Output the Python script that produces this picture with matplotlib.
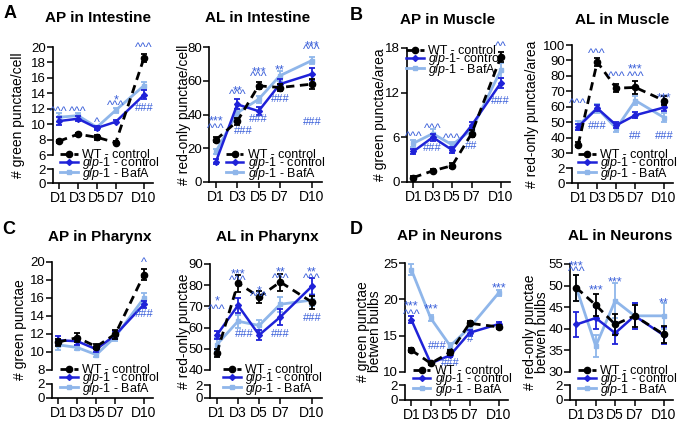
import matplotlib
matplotlib.use("Agg")
import matplotlib.pyplot as plt
from matplotlib.transforms import offset_copy

plt.rcParams['font.family'] = ['Liberation Sans', 'DejaVu Sans']
plt.rcParams['mathtext.fontset'] = 'custom'
plt.rcParams['mathtext.it'] = 'Liberation Sans:italic'
plt.rcParams['mathtext.rm'] = 'Liberation Sans'

days = [1, 3, 5, 7, 10]
day_labels = ['D1', 'D3', 'D5', 'D7', 'D10']

# A - AP in intestine
ap_int_wt = [7.8, 8.7, 8.3, 7.6, 18.6]
ap_int_wt_err = [0.2, 0.2, 0.3, 0.2, 0.5]
ap_int_glp = [10.4, 10.7, 9.5, 10.3, 13.8]
ap_int_glp_err = [0.5, 0.3, 0.2, 0.2, 0.6]
ap_int_baf = [10.9, 11.1, 9.6, 11.8, 15.0]
ap_int_baf_err = [0.6, 0.4, 0.2, 0.3, 0.5]
ap_int_marks = [(1, '^^^', 12.2), (3, '^^^', 12.2), (5, '^', 10.8), (7, '*', 13.6),
                (7, '^^^', 12.9), (10, '^^^', 20.5), (10, '###', 12.2)]

# A - AL in intestine
al_int_wt = [25, 36, 57, 56, 58]
al_int_wt_err = [1.5, 2, 2, 2, 3]
al_int_glp = [12, 46, 42, 58, 64]
al_int_glp_err = [1.5, 3, 2.5, 3, 3.5]
al_int_baf = [18, 41, 49, 63, 72]
al_int_baf_err = [1.5, 2, 2, 3, 2]
al_int_marks = [(1, '***', 38.5), (1, '^^^', 34), (3, '**', 56.5), (3, '^^^', 54),
                (3.6, '###', 31), (5, '***', 67.5), (5, '^^^', 65), (5, '###', 38),
                (7, '**', 69), (7, '###', 49.5), (10, '***', 83), (10, '^^^', 81),
                (10, '###', 36)]

# B - AP in muscle
ap_mus_wt = [0.6, 1.5, 2.2, 6.5, 16.8]
ap_mus_wt_err = [0.2, 0.2, 0.3, 0.5, 0.7]
ap_mus_glp = [4.1, 6.0, 4.3, 7.6, 13.3]
ap_mus_glp_err = [0.3, 0.5, 0.4, 0.5, 0.7]
ap_mus_baf = [5.2, 6.5, 5.0, 7.0, 15.0]
ap_mus_baf_err = [0.5, 0.6, 0.4, 0.5, 1.0]
ap_mus_marks = [(1, '^^^', 6.6), (3, '^^^', 7.7), (3, '###', 4.7), (5, '^^^', 6.4),
                (7, '##', 5.0), (10, '^^', 18.7), (10, '###', 11.0)]

# B - AL in muscle
al_mus_wt = [35.5, 89, 72, 72.5, 64]
al_mus_wt_err = [1.5, 2.5, 2.5, 4, 3]
al_mus_glp = [47, 59, 48, 54.5, 59.5]
al_mus_glp_err = [2, 2, 2, 2, 2.5]
al_mus_baf = [48, 59, 46, 64, 53]
al_mus_baf_err = [3, 3, 2.5, 3, 3]
al_mus_marks = [(1, '^^^', 64.5), (3, '^^^', 96.8), (3, '###', 48), (5, '^^^', 82.5),
                (7, '***', 87), (7, '^^^', 82.5), (7, '##', 41.7), (10, '***', 68),
                (10, '###', 41.5)]

# C - AP in pharynx
ap_pha_wt = [11.1, 11.6, 10.6, 12.0, 18.6]
ap_pha_wt_err = [0.4, 0.5, 0.3, 0.5, 0.6]
ap_pha_glp = [11.3, 11.2, 10.3, 11.9, 15.3]
ap_pha_glp_err = [0.5, 0.4, 0.3, 0.4, 0.4]
ap_pha_baf = [10.8, 10.5, 9.7, 11.7, 16.0]
ap_pha_baf_err = [0.6, 0.3, 0.2, 0.5, 0.6]
ap_pha_marks = [(10, '^', 20.4), (10, '###', 14.3)]

# C - AL in pharynx
al_pha_wt = [48, 81, 74.5, 81.5, 72]
al_pha_wt_err = [2, 4, 3, 4, 3]
al_pha_glp = [56.5, 70.5, 56.5, 65, 79.5]
al_pha_glp_err = [2, 3.5, 2.5, 4, 4]
al_pha_baf = [52, 63, 61, 71, 73]
al_pha_baf_err = [3, 3, 2.5, 3.5, 3]
al_pha_marks = [(1, '*', 74.5), (1, '^^^', 70.3), (3, '***', 87), (3, '^^^', 84.3),
                (3.6, '###', 57.5), (5, '*', 79), (5, '^^^', 76.8), (7, '**', 88),
                (7, '^^^', 85.3), (7, '###', 57.5), (10, '**', 88), (10, '^^^', 85.3),
                (10, '###', 65)]

# D - AP in neurons
ap_neu_wt = [13.0, 11.2, 12.7, 16.7, 16.2]
ap_neu_wt_err = [0.3, 0.2, 0.3, 0.3, 0.3]
ap_neu_glp = [17.2, 11.2, 12.3, 15.4, 16.6]
ap_neu_glp_err = [0.5, 0.2, 0.3, 0.4, 0.3]
ap_neu_baf = [24.1, 17.4, 13.6, 16.1, 20.9]
ap_neu_baf_err = [0.7, 0.4, 0.4, 0.4, 0.4]
ap_neu_marks = [(1, '***', 19.6), (1, '^^^', 18.5), (3, '***', 19.2), (3.7, '###', 13.7),
                (5, '###', 11.4), (7, '#', 14.7), (10, '***', 22.1)]

# D - AL in neurons
al_neu_wt = [49.5, 45.5, 41, 43, 38.7]
al_neu_wt_err = [3, 2.5, 2.5, 2.5, 2]
al_neu_glp = [41, 42.5, 39, 43, 38.5]
al_neu_glp_err = [3, 2.5, 2.5, 3, 2]
al_neu_baf = [49.5, 36, 46.5, 43, 43]
al_neu_baf_err = [3, 2.5, 4, 3, 3]
al_neu_marks = [(1, '***', 55.6), (1, '^^^', 54.3), (3, '***', 50), (5, '***', 51.8),
                (10, '**', 47)]

WT_C = 'black'
GLP_C = '#1f22d8'
BAF_C = '#8fb6ea'
ANN_C = '#3a5fd9'

W, H = 685, 425
fig = plt.figure(figsize=(W / 100, H / 100), dpi=100)


def px_axes(l, r, t, b):
    return fig.add_axes([l / W, 1 - b / H, (r - l) / W, (b - t) / H])


def style(ax, show_x):
    for s in ['top', 'right']:
        ax.spines[s].set_visible(False)
    ax.spines['left'].set_linewidth(1.2)
    ax.spines['bottom'].set_linewidth(1.2)
    ax.tick_params(labelsize=9.5, length=4, width=1.1, pad=1)
    ax.set_xlim(0.35, 10.95)
    if show_x:
        ax.set_xticks(days)
        ax.set_xticklabels(day_labels)
        ax.tick_params(axis='x', labelsize=10, pad=1.5)
    else:
        ax.spines['bottom'].set_visible(False)
        ax.set_xticks([])
    ax.patch.set_alpha(0)


glp_lab = r'$\mathit{glp}$-$\mathit{1}$ - control'
glp_lab_b = r'$\mathit{glp}$-$\mathit{1}$- control'
baf_lab = r'$\mathit{glp}$-$\mathit{1}$ - BafA'

panels = [
    dict(title='AP in Intestine', tx=98, ty=18, ylabel='# green punctae/cell', loff=35,
         box=(53, 153, 47, 155, 169, 183), ylim=(6, 20), yticks=range(6, 21, 2),
         data=(ap_int_wt, ap_int_wt_err, ap_int_glp, ap_int_glp_err, ap_int_baf, ap_int_baf_err),
         marks=ap_int_marks, leg=(60, 149), glab=glp_lab),
    dict(title='AL in Intestine', tx=258, ty=18, ylabel='# red-only punctae/cell', loff=25,
         box=(209, 322, 47, 182, None, None), ylim=(0, 80), yticks=range(0, 81, 20),
         data=(al_int_wt, al_int_wt_err, al_int_glp, al_int_glp_err, al_int_baf, al_int_baf_err),
         marks=al_int_marks, leg=(226, 149), glab=glp_lab),
    dict(title='AP in Muscle', tx=448, ty=20, ylabel='# green punctae/area', loff=27,
         box=(407, 510, 48, 182, None, None), ylim=(0, 18), yticks=range(0, 19, 6),
         data=(ap_mus_wt, ap_mus_wt_err, ap_mus_glp, ap_mus_glp_err, ap_mus_baf, ap_mus_baf_err),
         marks=ap_mus_marks, leg=(406, 45), glab=glp_lab_b),
    dict(title='AL in Muscle', tx=622, ty=20, ylabel='# red-only punctae/area', loff=40,
         box=(572, 673, 45, 153, 168, 183), ylim=(30, 100), yticks=range(30, 101, 10),
         data=(al_mus_wt, al_mus_wt_err, al_mus_glp, al_mus_glp_err, al_mus_baf, al_mus_baf_err),
         marks=al_mus_marks, leg=(578, 149), glab=glp_lab),
    dict(title='AP in Pharynx', tx=100, ty=237, ylabel='# green punctae', loff=32,
         box=(52, 153, 262, 370, 384, 398), ylim=(8, 20), yticks=range(8, 21, 2),
         data=(ap_pha_wt, ap_pha_wt_err, ap_pha_glp, ap_pha_glp_err, ap_pha_baf, ap_pha_baf_err),
         marks=ap_pha_marks, leg=(60, 364), glab=glp_lab),
    dict(title='AL in Pharynx', tx=267, ty=237, ylabel='# red-only punctae', loff=26,
         box=(210, 322, 264, 370, 385, 398), ylim=(40, 90), yticks=range(40, 91, 10),
         data=(al_pha_wt, al_pha_wt_err, al_pha_glp, al_pha_glp_err, al_pha_baf, al_pha_baf_err),
         marks=al_pha_marks, leg=(223, 364), glab=glp_lab),
    dict(title='AP in Neurons', tx=450, ty=236, ylabel='# green punctae\nbetwen bulbs', loff=36,
         box=(405, 508, 263, 372, 385, 400), ylim=(10, 25), yticks=range(10, 26, 5),
         data=(ap_neu_wt, ap_neu_wt_err, ap_neu_glp, ap_neu_glp_err, ap_neu_baf, ap_neu_baf_err),
         marks=ap_neu_marks, leg=(413, 365), glab=glp_lab),
    dict(title='AL in Neurons', tx=620, ty=236, ylabel='# red-only punctae\nbetwen bulbs', loff=34,
         box=(570, 673, 264, 372, 385, 400), ylim=(30, 55), yticks=range(30, 56, 5),
         data=(al_neu_wt, al_neu_wt_err, al_neu_glp, al_neu_glp_err, al_neu_baf, al_neu_baf_err),
         marks=al_neu_marks, leg=(578, 365), glab=glp_lab),
]

for p in panels:
    l, r, t, b, lt, lb = p['box']
    broken = lt is not None
    ax = px_axes(l, r, t, b)
    style(ax, not broken)
    ax.set_ylim(*p['ylim'])
    ax.set_yticks(list(p['yticks']))
    if broken:
        low = px_axes(l, r, lt, lb)
        style(low, True)
        low.set_ylim(0, 2)
        low.set_yticks([0, 2])
        bottom = lb
    else:
        bottom = b

    wt, wte, gl, gle, bf, bfe = p['data']
    ax.errorbar(days, bf, yerr=bfe, fmt='none', ecolor=BAF_C, elinewidth=1.3,
                capsize=2.5, capthick=1.3, clip_on=False, zorder=2)
    h_baf, = ax.plot(days, bf, color=BAF_C, lw=2, marker='s', ms=3.5,
                     clip_on=False, zorder=2)
    ax.errorbar(days, gl, yerr=gle, fmt='none', ecolor=GLP_C, elinewidth=1.3,
                capsize=2.5, capthick=1.3, clip_on=False, zorder=3)
    h_glp, = ax.plot(days, gl, color=GLP_C, lw=1.8, marker='D', ms=3,
                     clip_on=False, zorder=3)
    ax.errorbar(days, wt, yerr=wte, fmt='none', ecolor=WT_C, elinewidth=1.3,
                capsize=2.5, capthick=1.3, clip_on=False, zorder=4)
    h_wt, = ax.plot(days, wt, color=WT_C, lw=2, ls=(0, (3, 2)), marker='o', ms=4.5,
                    clip_on=False, zorder=4)

    # significance marks; ^ and * glyphs sit high, so nudge them down a little
    low_shift = offset_copy(ax.transData, fig=fig, y=-2.2, units='points')
    for x, txt, y in p['marks']:
        if txt.startswith('#'):
            ax.text(x, y, txt, ha='center', va='center_baseline', color=ANN_C,
                    fontsize=8, clip_on=False, zorder=6)
        else:
            ax.text(x, y, txt, ha='center', va='center_baseline', color=ANN_C,
                    fontsize=9, clip_on=False, zorder=6, transform=low_shift)

    lx, ly = p['leg']
    fig.legend([h_wt, h_glp, h_baf], ['WT - control', p['glab'], baf_lab],
               loc='upper left', bbox_to_anchor=(lx / W, 1 - ly / H), frameon=False,
               fontsize=9, borderpad=0, labelspacing=-0.45, handlelength=1.4,
               handletextpad=0.35, borderaxespad=0)

    fig.text(p['tx'] / W, 1 - p['ty'] / H, p['title'], ha='center', va='center',
             fontsize=11, fontweight='bold')
    fig.text((l - p['loff']) / W, 1 - ((t + bottom) / 2) / H, p['ylabel'],
             rotation=90, ha='center', va='center', fontsize=10, linespacing=0.9)

for letter, x, y in [('A', 10, 14), ('B', 356, 15), ('C', 9, 229), ('D', 356, 229)]:
    fig.text(x / W, 1 - y / H, letter, ha='center', va='center', fontsize=13,
             fontweight='bold')

fig.savefig('out.png', dpi=100)
